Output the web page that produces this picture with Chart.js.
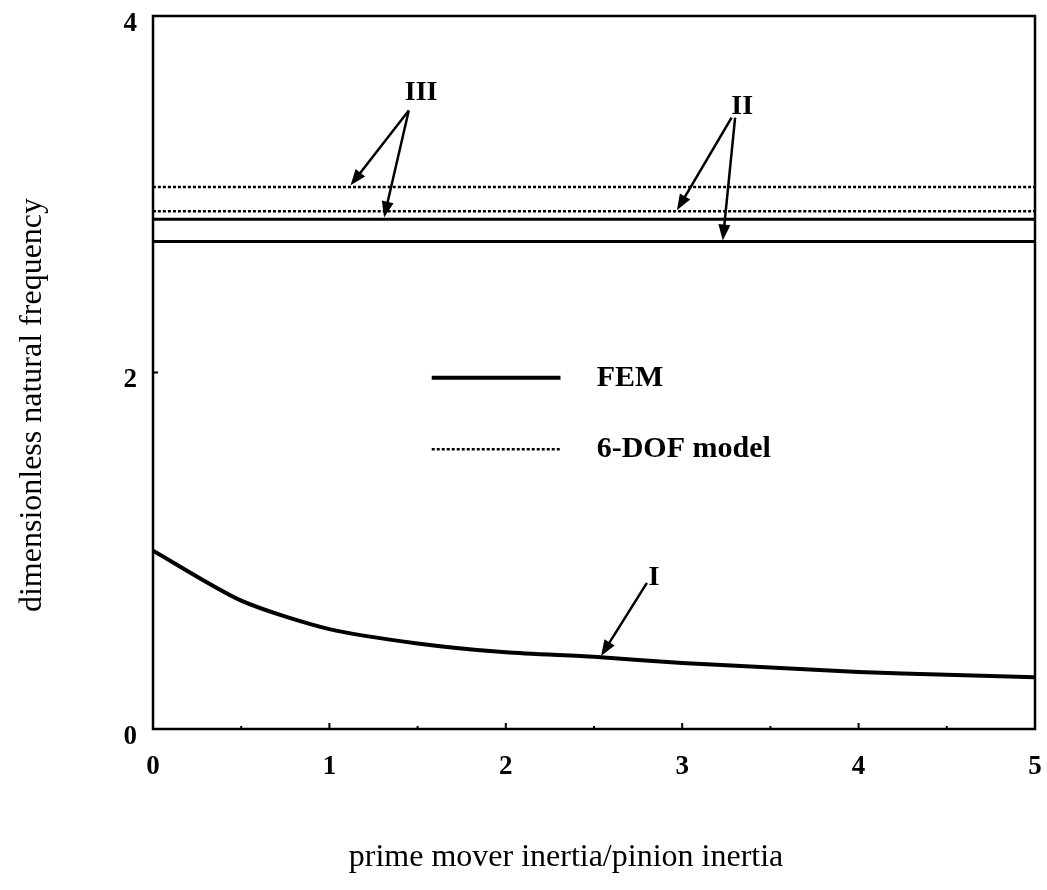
<!DOCTYPE html>
<html>
<head>
<meta charset="utf-8">
<script src="https://cdn.jsdelivr.net/npm/chart.js@4"></script>
<style>
  html, body { margin: 0; padding: 0; background: #fff; }
  #wrap { width: 1047px; height: 890px; }
</style>
</head>
<body>
<div id="wrap"><canvas id="c" width="1047" height="890"></canvas></div>
<script>
// DATA
const inertiaRatio = [0, 0.5, 1, 1.5, 2, 2.5, 3, 3.5, 4, 4.5, 5];
const femModeI = [1.0, 0.72, 0.56, 0.48, 0.43, 0.405, 0.37, 0.345, 0.32, 0.305, 0.29];
const lineEnds = [0, 5];
const femModeII = [2.735, 2.735];
const femModeIII = [2.86, 2.86];
const dofModeII = [2.905, 2.905];
const dofModeIII = [3.04, 3.04];
const xTicks = [0, 1, 2, 3, 4, 5];
const yTicks = [0, 2, 4];
const yInnerTicks = [2];

// mode labels and their arrows, in data units: [fromX, fromY, toX, toY]
const modeLabels = [
  { text: 'III', at: [1.52, 3.57], arrows: [[1.45, 3.47, 1.12, 3.05], [1.45, 3.47, 1.31, 2.87]] },
  { text: 'II', at: [3.34, 3.49], arrows: [[3.28, 3.43, 2.97, 2.91], [3.30, 3.43, 3.23, 2.74]] },
  { text: 'I', at: [2.84, 0.85], arrows: [[2.80, 0.82, 2.54, 0.41]] }
];
const legendItems = [
  { text: 'FEM', y: 1.97, dash: [] },
  { text: '6-DOF model', y: 1.57, dash: [3, 2] }
];
const legendLine = [1.58, 2.31];
const legendTextX = 2.515;

const serif = '"Liberation Serif", "DejaVu Serif", serif';

function pts(xs, ys) {
  return xs.map((x, i) => ({ x: x, y: ys[i] }));
}

function lineSet(label, xs, ys, width, dash) {
  return {
    label: label,
    data: pts(xs, ys),
    showLine: true,
    borderColor: '#000',
    borderWidth: width,
    borderDash: dash,
    pointRadius: 0,
    tension: 0.25,
    fill: false
  };
}

function arrow(ctx, x1, y1, x2, y2) {
  const a = Math.atan2(y2 - y1, x2 - x1);
  const len = 16, half = 6;
  ctx.beginPath();
  ctx.moveTo(x1, y1);
  ctx.lineTo(x2 - Math.cos(a) * len * 0.8, y2 - Math.sin(a) * len * 0.8);
  ctx.stroke();
  ctx.beginPath();
  ctx.moveTo(x2, y2);
  ctx.lineTo(x2 - Math.cos(a) * len + Math.sin(a) * half, y2 - Math.sin(a) * len - Math.cos(a) * half);
  ctx.lineTo(x2 - Math.cos(a) * len - Math.sin(a) * half, y2 - Math.sin(a) * len + Math.cos(a) * half);
  ctx.closePath();
  ctx.fill();
}

// no extra room for overhanging end labels
function noEdgePadding(s) {
  s.paddingTop = 0;
  s.paddingBottom = 0;
  s.paddingLeft = 0;
  s.paddingRight = 0;
}

const decor = {
  id: 'decor',
  afterDraw(chart) {
    const ctx = chart.ctx;
    const xs = chart.scales.x, ys = chart.scales.y;
    const a = chart.chartArea;
    ctx.save();
    ctx.strokeStyle = '#000';
    ctx.fillStyle = '#000';

    // frame
    ctx.lineWidth = 2.5;
    ctx.strokeRect(a.left, a.top, a.right - a.left, a.bottom - a.top);

    // inward minor ticks
    ctx.lineWidth = 2;
    for (let v = 0.5; v < 5; v += 0.5) {
      const px = xs.getPixelForValue(v);
      ctx.beginPath();
      ctx.moveTo(px, a.bottom);
      ctx.lineTo(px, a.bottom - (v % 1 === 0 ? 6 : 3));
      ctx.stroke();
    }
    yInnerTicks.forEach(v => {
      const py = ys.getPixelForValue(v);
      ctx.beginPath();
      ctx.moveTo(a.left, py);
      ctx.lineTo(a.left + 5, py);
      ctx.stroke();
    });

    // mode labels with arrows
    ctx.font = 'bold 28px ' + serif;
    ctx.textAlign = 'center';
    ctx.textBaseline = 'middle';
    ctx.lineWidth = 2.5;
    modeLabels.forEach(m => {
      ctx.fillText(m.text, xs.getPixelForValue(m.at[0]), ys.getPixelForValue(m.at[1]));
      m.arrows.forEach(r => arrow(ctx,
        xs.getPixelForValue(r[0]), ys.getPixelForValue(r[1]),
        xs.getPixelForValue(r[2]), ys.getPixelForValue(r[3])));
    });

    // legend
    ctx.font = 'bold 30px ' + serif;
    ctx.textAlign = 'left';
    legendItems.forEach(it => {
      const py = ys.getPixelForValue(it.y);
      ctx.setLineDash(it.dash);
      ctx.lineWidth = it.dash.length ? 2.5 : 4;
      ctx.beginPath();
      ctx.moveTo(xs.getPixelForValue(legendLine[0]), py);
      ctx.lineTo(xs.getPixelForValue(legendLine[1]), py);
      ctx.stroke();
      ctx.setLineDash([]);
      ctx.fillText(it.text, xs.getPixelForValue(legendTextX), py);
    });

    // axis titles
    ctx.font = '32px ' + serif;
    ctx.textAlign = 'center';
    ctx.fillText('prime mover inertia/pinion inertia', 566, 858);
    ctx.translate(33, 405);
    ctx.rotate(-Math.PI / 2);
    ctx.fillText('dimensionless natural frequency', 0, 0);
    ctx.restore();
  }
};

new Chart(document.getElementById('c'), {
  type: 'scatter',
  data: {
    datasets: [
      lineSet('FEM I', inertiaRatio, femModeI, 4, []),
      lineSet('FEM II', lineEnds, femModeII, 3, []),
      lineSet('FEM III', lineEnds, femModeIII, 3, []),
      lineSet('6-DOF II', lineEnds, dofModeII, 2.5, [3, 2]),
      lineSet('6-DOF III', lineEnds, dofModeIII, 2.5, [3, 2])
    ]
  },
  options: {
    responsive: false,
    animation: false,
    layout: { padding: { top: 16, right: 12, left: 0, bottom: 0 } },
    plugins: {
      legend: { display: false },
      tooltip: { enabled: false }
    },
    scales: {
      x: {
        type: 'linear',
        min: 0,
        max: 5,
        afterBuildTicks: s => { s.ticks = xTicks.map(v => ({ value: v })); },
        afterFit: s => { s.height = 161; noEdgePadding(s); },
        grid: { display: false },
        border: { display: false },
        ticks: {
          color: '#000',
          padding: 14,
          maxRotation: 0,
          font: { family: serif, size: 27, weight: 'bold' }
        }
      },
      y: {
        type: 'linear',
        min: 0,
        max: 4,
        afterBuildTicks: s => { s.ticks = yTicks.map(v => ({ value: v })); },
        afterFit: s => { s.width = 153; noEdgePadding(s); },
        grid: { display: false },
        border: { display: false },
        ticks: {
          color: '#000',
          padding: 8,
          labelOffset: 8,
          font: { family: serif, size: 27, weight: 'bold' }
        }
      }
    }
  },
  plugins: [decor]
});
</script>
</body>
</html>
